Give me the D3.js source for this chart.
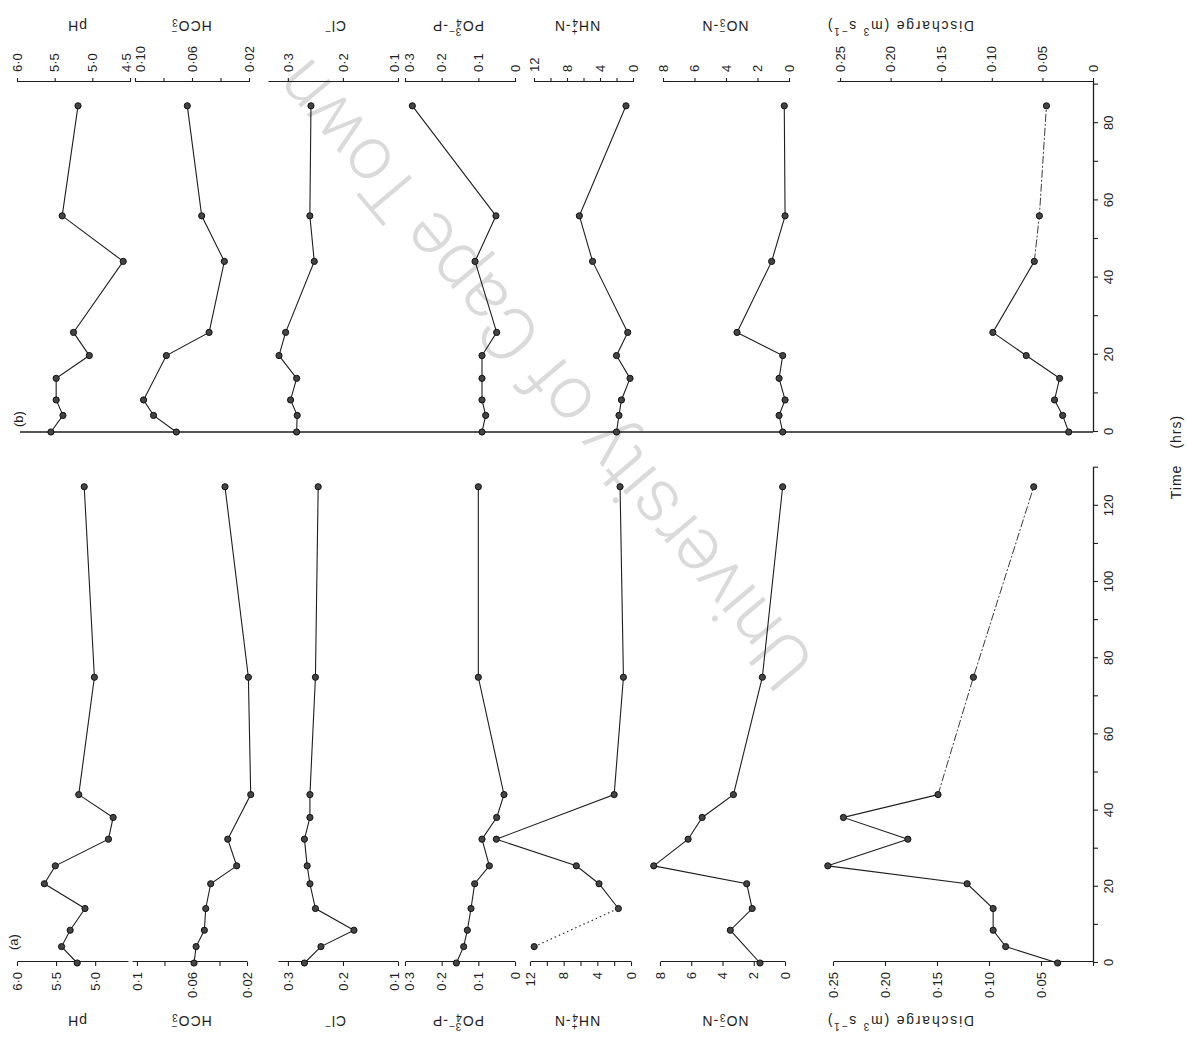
<!DOCTYPE html>
<html><head><meta charset="utf-8">
<script src="https://cdn.jsdelivr.net/npm/d3@7"></script>
<style>
html,body{margin:0;padding:0;background:#fff;}
svg{display:block;font-family:"Liberation Sans",Arial,Helvetica,sans-serif;}
</style></head><body>
<script>
// ---- sampling times (hours after start of each event) ----
const timeA = [0, 4.3, 8.6, 14.3, 20.8, 25.5, 32.5, 38.2, 44.2, 75, 125];
const timeB = [0, 4.3, 8.3, 13.9, 19.8, 25.8, 44.2, 56, 84.5];

// ---- event (a) ----
const pHA   = [5.23, 5.43, 5.32, 5.13, 5.65, 5.51, 4.83, 4.77, 5.21, 5.01, 5.14];
const hco3A = [0.0585, 0.057, 0.051, 0.050, 0.0464, 0.0275, 0.034, null, 0.0173, 0.019, 0.036];
const clA   = [0.27, 0.24, 0.18, 0.25, 0.26, 0.265, 0.27, 0.26, 0.26, 0.25, 0.245];
const po4A  = [0.16, 0.14, 0.13, 0.12, 0.11, 0.07, 0.09, 0.05, 0.03, 0.10, 0.10];
const nh4A  = [null, 11.5, null, 1.5, 3.8, 6.5, 16.0, null, 2.0, 0.9, 1.3];
const no3A  = [1.6, null, 3.5, 2.1, 2.45, 8.4, 6.2, 5.3, 3.3, 1.45, 0.15];
const qA    = [0.034, 0.084, 0.096, 0.096, 0.121, 0.255, 0.178, 0.240, 0.149, 0.115, 0.057];

// ---- event (b) ----
const pHB   = [5.55, 5.39, 5.48, 5.48, 5.04, 5.25, 4.59, 5.40, 5.19];
const hco3B = [0.071, 0.087, 0.094, null, 0.078, 0.048, 0.0373, 0.0532, 0.0633];
const clB   = [0.284, 0.283, 0.295, 0.284, 0.316, 0.304, 0.252, 0.26, 0.258];
const po4B  = [0.09, 0.08, 0.09, 0.09, 0.09, 0.05, 0.109, 0.052, 0.28];
const nh4B  = [2.0, 1.7, 1.4, 0.36, 2.0, 0.64, 4.9, 6.5, 0.85];
const no3B  = [0.4, 0.63, 0.25, 0.63, 0.4, 3.3, 1.1, 0.25, 0.3];
const qB    = [0.024, 0.030, 0.038, 0.033, 0.066, 0.099, 0.058, 0.053, 0.046];

// ---- axis ticks and labels ----
const timeTicks = [0, 10, 20, 30, 40, 50, 60, 70, 80, 90, 100, 110, 120, 130];
const timeLabelEvery = 20;
const pHTicks = [6.0, 5.5, 5.0, 4.5];
const hco3Ticks = [0.10, 0.08, 0.06, 0.04, 0.02];
const clTicks = [0.3, 0.2, 0.1];
const po4Ticks = [0.3, 0.2, 0.1, 0];
const nh4Ticks = [12, 10, 8, 6, 4, 2, 0];
const no3Ticks = [8, 6, 4, 2, 0];
const qTicks = [0.25, 0.20, 0.15, 0.10, 0.05, 0];

// ---- layout (figure drawn upright, then turned a quarter turn) ----
const W = 1187, H = 1040;
const timeAxisY = 1093;
const panels = {
  a: {x0: 77, pxh: 3.81, tMax: 130, axisX: 78, side: "left", times: timeA, lastLabel: 120},
  b: {x0: 608, pxh: 3.86, tMax: 90.7, axisX: 958, side: "right", times: timeB, lastLabel: 80}
};
const dec = (s) => s.replace(".", "\u00b7");
// nudge: shifts crowded end labels apart where two axes meet
const rows = [
  {title: 0, ticks: pHTicks, data: {a: pHA, b: pHB},
   dom: {a: [6.0, 4.58], b: [6.0, 4.5]}, rng: {a: [17, 128], b: [17, 130]},
   lab: {a: [6.0, 5.5, 5.0], b: [6.0, 5.5, 5.0, 4.5]}, fmt: v => dec(d3.format(".1f")(v)), tc: 77,
   nudge: {b: [[4.5, -4]]}},
  {title: 1, ticks: hco3Ticks, data: {a: hco3A, b: hco3B},
   dom: {a: [0.1036, 0.02], b: [0.10, 0.02]}, rng: {a: [132, 247], b: [135, 249]},
   lab: {a: [0.1, 0.06, 0.02], b: [0.10, 0.06, 0.02]},
   fmtA: v => (v === 0.1 ? "0\u00b71" : dec(d3.format(".2f")(v))),
   fmt: v => dec(d3.format(".2f")(v)), tc: 191,
   nudge: {b: [[0.1, 5]]}},
  {title: 2, ticks: clTicks, data: {a: clA, b: clB},
   dom: {a: [0.318, 0.1], b: [0.336, 0.1]}, rng: {a: [278, 398], b: [268, 398]},
   lab: {a: [0.3, 0.2, 0.1], b: [0.3, 0.2, 0.1]}, fmt: v => dec(d3.format(".1f")(v)), tc: 335,
   nudge: {a: [[0.1, -4]], b: [[0.1, -4]]}},
  {title: 3, ticks: po4Ticks, data: {a: po4A, b: po4B},
   dom: {a: [0.3, 0], b: [0.3, 0]}, rng: {a: [405, 515], b: [405, 515]},
   lab: {a: [0.3, 0.2, 0.1, 0], b: [0.3, 0.2, 0.1, 0]}, fmt: v => (v === 0 ? "0" : dec(d3.format(".1f")(v))), tc: 458,
   nudge: {a: [[0.3, 4]], b: [[0.3, 4]]}},
  {title: 4, ticks: nh4Ticks, data: {a: nh4A, b: nh4B},
   dom: {a: [12, 0], b: [12, 0]}, rng: {a: [530, 631], b: [534, 633]},
   lab: {a: [12, 8, 4, 0], b: [12, 8, 4, 0]}, fmt: v => String(v), tc: 577, dottedHead: {a: 2}},
  {title: 5, ticks: no3Ticks, data: {a: no3A, b: no3B},
   dom: {a: [8, 0], b: [8, 0]}, rng: {a: [660, 785], b: [663, 789]},
   lab: {a: [8, 6, 4, 2, 0], b: [8, 6, 4, 2, 0]}, fmt: v => String(v), tc: 725},
  {title: 6, ticks: qTicks, data: {a: qA, b: qB},
   dom: {a: [0.25, 0], b: [0.253, 0]}, rng: {a: [833, 1093], b: [837, 1093]},
   lab: {a: [0.25, 0.20, 0.15, 0.10, 0.05], b: [0.25, 0.20, 0.15, 0.10, 0.05, 0]},
   fmt: v => (v === 0 ? "0" : dec(d3.format(".2f")(v))), tc: 900, tailDashFrom: 44}
];

const svg = d3.select("body").append("svg").attr("width", W).attr("height", H);
svg.append("rect").attr("width", W).attr("height", H).attr("fill", "#fff");

// everything below is laid out with time running left to right
const fig = svg.append("g").attr("transform", `translate(0,${H}) rotate(-90)`);

// faint library watermark across the sheet
fig.append("text")
  .attr("transform", "translate(669,548) rotate(-40)")
  .attr("text-anchor", "middle").attr("dominant-baseline", "middle")
  .style("font-family", "Roboto, 'Liberation Sans', sans-serif")
  .style("font-weight", 300).style("font-size", "75px")
  .attr("fill", "#dadada")
  .text("University of Cape Town");

const ink = "#1e1e1e";

// --- titles with sub/superscripts ---
function writeTitle(sel, idx) {
  const sub = (t) => sel.append("tspan").attr("baseline-shift", "-30%").style("font-size", "10px").text(t);
  const sup = (t, dx) => sel.append("tspan").attr("dx", dx).attr("baseline-shift", "55%").style("font-size", "10px").text(t);
  const plain = (t) => sel.append("tspan").text(t);
  if (idx === 0) plain("pH");
  if (idx === 1) { plain("HCO"); sub("3"); sup("\u2212", -6); }
  if (idx === 2) { plain("Cl"); sup("\u2212", 0); }
  if (idx === 3) { plain("PO"); sub("4"); sup("3\u2212", -6); plain("-P"); }
  if (idx === 4) { plain("NH"); sub("4"); sup("+", -6); plain("-N"); }
  if (idx === 5) { plain("NO"); sub("3"); sup("\u2212", -6); plain("-N"); }
  if (idx === 6) { plain("Discharge  (m"); sup("3", 0); plain(" s"); sup("\u22121", 0); plain(")"); }
}

// --- time axes ---
const tScales = {};
Object.entries(panels).forEach(([k, p]) => {
  const x = d3.scaleLinear().domain([0, p.tMax]).range([p.x0, p.x0 + p.tMax * p.pxh]);
  tScales[k] = x;
  const ax = d3.axisBottom(x)
    .tickValues(timeTicks.filter(t => t <= p.tMax))
    .tickFormat(t => (t % timeLabelEvery === 0 && t <= p.lastLabel ? t : ""))
    .tickSize(5).tickSizeOuter(0).tickPadding(6);
  const gAx = fig.append("g").attr("transform", `translate(0,${timeAxisY})`).call(ax);
  gAx.select(".domain").attr("stroke", ink).attr("stroke-width", 1.3);
  gAx.selectAll(".tick line").attr("stroke", ink).attr("stroke-width", 1.1);
  gAx.selectAll(".tick text").attr("fill", ink).style("font-size", "13px")
    .style("font-family", "'Liberation Sans', Arial, sans-serif");
});

// vertical reference line at the start of event (b)
fig.append("line")
  .attr("x1", tScales.b(0)).attr("x2", tScales.b(0))
  .attr("y1", 20).attr("y2", timeAxisY)
  .attr("stroke", ink).attr("stroke-width", 1.3);

// --- value axes, series and markers ---
rows.forEach(r => {
  Object.entries(panels).forEach(([k, p]) => {
    const y = d3.scaleLinear().domain(r.dom[k]).range(r.rng[k]);
    const fmt = (k === "a" && r.fmtA) ? r.fmtA : r.fmt;
    const ticks = r.ticks.filter(v => v <= Math.max(...r.dom[k]) + 1e-9 && v >= Math.min(...r.dom[k]) - 1e-9);
    const labSet = r.lab[k];
    const axis = (p.side === "left" ? d3.axisLeft(y) : d3.axisRight(y))
      .tickValues(ticks)
      .tickFormat(v => (labSet.some(l => Math.abs(l - v) < 1e-9) ? fmt(v) : ""))
      .tickSize(4).tickSizeOuter(0).tickPadding(6);
    const gAx = fig.append("g").attr("transform", `translate(${p.axisX},0)`).call(axis);
    gAx.select(".domain").attr("stroke", ink).attr("stroke-width", 1.2);
    gAx.selectAll(".tick line").attr("stroke", ink).attr("stroke-width", 1.1);
    gAx.selectAll(".tick text").attr("fill", ink).style("font-size", "13px")
      .style("font-family", "'Liberation Sans', Arial, sans-serif")
      .attr("y", v => {
        const n = r.nudge && r.nudge[k] ? r.nudge[k].find(e => Math.abs(e[0] - v) < 1e-9) : null;
        return n ? n[1] : 0;
      });

    // title
    const tx = p.side === "left" ? 20 : 1015;
    const t = fig.append("text")
      .attr("transform", `translate(${tx},${r.tc}) rotate(-90)`)
      .attr("text-anchor", "middle").attr("dominant-baseline", "middle")
      .attr("fill", ink).style("font-size", "14px")
      .style("letter-spacing", r.title === 6 ? "1.8px" : "1px");
    writeTitle(t, r.title);

    // series
    const x = tScales[k];
    const pts = p.times.map((tm, i) => ({t: tm, v: r.data[k][i], i}))
      .filter(d => d.v !== null && d.v !== undefined);
    const line = d3.line().x(d => x(d.t)).y(d => y(d.v));
    const head = r.dottedHead && r.dottedHead[k] ? r.dottedHead[k] : 0;
    if (head) {
      fig.append("path").datum(pts.slice(0, head))
        .attr("d", line).attr("fill", "none").attr("stroke", ink)
        .attr("stroke-width", 1.1).attr("stroke-dasharray", "1.5,3");
    }
    let body = pts.slice(Math.max(0, head - 1));
    if (r.tailDashFrom !== undefined) {
      const cut = body.findIndex(d => d.t >= r.tailDashFrom);
      fig.append("path").datum(body.slice(cut))
        .attr("d", line).attr("fill", "none").attr("stroke", "#3a3a3a")
        .attr("stroke-width", 1).attr("stroke-dasharray", "8,2,2,2");
      body = body.slice(0, cut + 1);
    }
    fig.append("path").datum(body)
      .attr("d", line).attr("fill", "none").attr("stroke", ink).attr("stroke-width", 1.1);
    fig.selectAll(null).data(pts).join("circle")
      .attr("cx", d => x(d.t)).attr("cy", d => y(d.v)).attr("r", 3.1)
      .attr("fill", "#444").attr("stroke", "#111").attr("stroke-width", 1);
  });
});

// panel letters
fig.append("text").attr("x", 90).attr("y", 18).attr("fill", ink).style("font-size", "13px").text("(a)");
fig.append("text").attr("x", 613).attr("y", 23).attr("fill", ink).style("font-size", "13px").text("(b)");

// shared time label
const tl = fig.append("text").attr("x", 583).attr("y", 1181).attr("text-anchor", "middle")
  .attr("fill", ink).style("font-size", "14px").style("letter-spacing", "1px");
tl.append("tspan").text("Time");
tl.append("tspan").attr("dx", 16).text("(hrs)");
</script>
</body></html>
